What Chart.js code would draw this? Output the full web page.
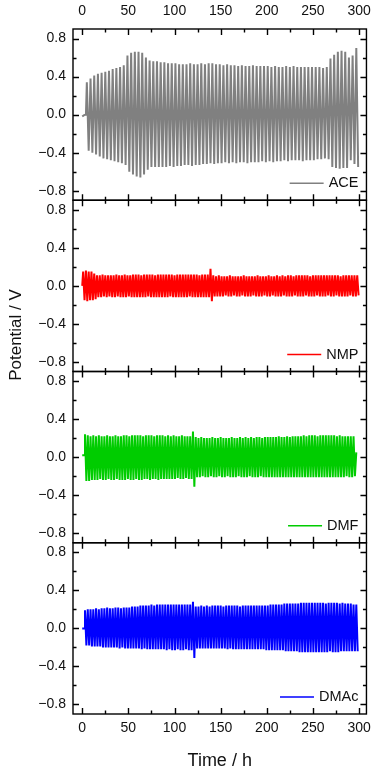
<!DOCTYPE html>
<html>
<head>
<meta charset="utf-8">
<script src="https://cdn.jsdelivr.net/npm/chart.js@4/dist/chart.umd.min.js"></script>
<style>
html,body{margin:0;padding:0;background:#fff;}
#wrap{position:relative;width:380px;height:774px;}
</style>
</head>
<body>
<div id="wrap"><canvas id="c" width="380" height="774"></canvas></div>
<script>
// ---------- data ----------
const xTicks = [0, 50, 100, 150, 200, 250, 300];
const xMinorTicks = [25, 75, 125, 175, 225, 275];
const yTicks = [-0.8, -0.4, 0.0, 0.4, 0.8];
const yMinorTicks = [-0.6, -0.2, 0.2, 0.6];
const seriesNames = ['ACE', 'NMP', 'DMF', 'DMAc'];

// ACE: rest segment then cycles (period 4 h, first peak at 5 h)
const aceRestTime = [0, 2, 4];
const aceRestV = [-0.02, -0.005, 0.0];
const aceStart = 5, acePeriod = 4;
const aceUpper = [0.34,0.38,0.41,0.43,0.44,0.45,0.46,0.48,0.49,0.50,
  0.52,0.62,0.65,0.66,0.66,0.65,0.60,0.57,0.56,0.56,
  0.55,0.55,0.54,0.54,0.54,0.53,0.53,0.53,0.54,0.53,
  0.53,0.54,0.53,0.54,0.54,0.53,0.53,0.52,0.53,0.52,
  0.52,0.51,0.52,0.51,0.51,0.52,0.51,0.51,0.51,0.51,
  0.50,0.51,0.50,0.50,0.51,0.50,0.51,0.50,0.50,0.50,
  0.50,0.50,0.50,0.50,0.49,0.50,0.59,0.63,0.66,0.67,
  0.66,0.60,0.62,0.70];
const aceLower = [-0.38,-0.40,-0.42,-0.44,-0.46,-0.47,-0.48,-0.49,-0.50,-0.51,
  -0.53,-0.60,-0.63,-0.65,-0.66,-0.63,-0.58,-0.55,-0.55,-0.55,
  -0.55,-0.55,-0.54,-0.55,-0.54,-0.54,-0.53,-0.53,-0.54,-0.53,
  -0.53,-0.52,-0.52,-0.51,-0.52,-0.51,-0.51,-0.50,-0.51,-0.50,
  -0.51,-0.50,-0.50,-0.51,-0.50,-0.50,-0.50,-0.49,-0.50,-0.49,
  -0.50,-0.49,-0.49,-0.48,-0.49,-0.48,-0.48,-0.48,-0.49,-0.48,
  -0.48,-0.48,-0.47,-0.47,-0.46,-0.47,-0.55,-0.56,-0.57,-0.56,
  -0.56,-0.48,-0.52,-0.55];

// NMP: cycles (period 3 h, first peak at 1 h)
const nmpRestTime = [0];
const nmpRestV = [0.0];
const nmpStart = 1, nmpPeriod = 3;
const nmpUpper = [0.15,0.16,0.15,0.15,0.13,0.11,0.11,0.12,0.11,0.11,
  0.11,0.11,0.12,0.11,0.11,0.12,0.11,0.11,0.12,0.12,
  0.12,0.11,0.12,0.12,0.12,0.12,0.11,0.12,0.12,0.12,
  0.12,0.12,0.12,0.11,0.12,0.12,0.12,0.12,0.12,0.12,
  0.12,0.12,0.11,0.12,0.12,0.12,0.18,0.11,0.10,0.11,
  0.10,0.10,0.10,0.11,0.10,0.10,0.10,0.10,0.11,0.10,
  0.10,0.10,0.10,0.11,0.10,0.10,0.10,0.11,0.10,0.10,
  0.11,0.10,0.11,0.10,0.11,0.11,0.10,0.11,0.11,0.11,
  0.11,0.11,0.10,0.11,0.11,0.11,0.11,0.11,0.11,0.11,
  0.11,0.11,0.11,0.10,0.11,0.11,0.11,0.11,0.11,0.11];
const nmpLower = [-0.15,-0.16,-0.15,-0.15,-0.14,-0.12,-0.12,-0.11,-0.12,-0.11,
  -0.12,-0.12,-0.11,-0.12,-0.12,-0.12,-0.11,-0.12,-0.12,-0.12,
  -0.12,-0.12,-0.12,-0.11,-0.12,-0.12,-0.12,-0.12,-0.12,-0.12,
  -0.12,-0.11,-0.12,-0.12,-0.12,-0.12,-0.12,-0.12,-0.11,-0.12,
  -0.12,-0.12,-0.12,-0.12,-0.12,-0.12,-0.16,-0.11,-0.11,-0.11,
  -0.11,-0.10,-0.11,-0.11,-0.10,-0.11,-0.11,-0.10,-0.11,-0.11,
  -0.11,-0.10,-0.11,-0.11,-0.11,-0.10,-0.11,-0.11,-0.10,-0.11,
  -0.11,-0.11,-0.10,-0.11,-0.11,-0.11,-0.10,-0.11,-0.11,-0.11,
  -0.10,-0.11,-0.11,-0.11,-0.10,-0.11,-0.11,-0.11,-0.10,-0.11,
  -0.11,-0.10,-0.11,-0.11,-0.11,-0.11,-0.10,-0.11,-0.11,-0.10];

// DMF: rest then cycles (period 3 h, first peak at 3 h)
const dmfRestTime = [0, 2];
const dmfRestV = [0.02, 0.02];
const dmfEndTime = [297];
const dmfEndV = [0.05];
const dmfStart = 3, dmfPeriod = 3;
const dmfUpper = [0.24,0.23,0.22,0.23,0.22,0.23,0.22,0.22,0.23,0.22,
  0.22,0.23,0.22,0.22,0.23,0.23,0.22,0.23,0.23,0.23,
  0.23,0.22,0.23,0.23,0.23,0.22,0.23,0.23,0.23,0.22,
  0.23,0.22,0.23,0.22,0.22,0.23,0.22,0.22,0.22,0.27,
  0.21,0.20,0.21,0.20,0.20,0.20,0.21,0.20,0.20,0.21,
  0.20,0.20,0.20,0.21,0.20,0.20,0.21,0.20,0.21,0.20,
  0.21,0.20,0.21,0.21,0.20,0.21,0.21,0.21,0.21,0.21,
  0.22,0.21,0.21,0.22,0.21,0.22,0.22,0.22,0.22,0.23,
  0.22,0.23,0.23,0.23,0.22,0.23,0.23,0.23,0.23,0.23,
  0.23,0.22,0.23,0.22,0.22,0.22,0.22,0.22];
const dmfLower = [-0.25,-0.25,-0.24,-0.24,-0.24,-0.23,-0.24,-0.24,-0.23,-0.24,
  -0.24,-0.23,-0.24,-0.24,-0.24,-0.23,-0.24,-0.24,-0.23,-0.24,
  -0.24,-0.23,-0.23,-0.24,-0.23,-0.23,-0.24,-0.23,-0.23,-0.23,
  -0.23,-0.23,-0.23,-0.22,-0.23,-0.23,-0.22,-0.23,-0.23,-0.31,
  -0.21,-0.21,-0.20,-0.21,-0.21,-0.20,-0.21,-0.21,-0.20,-0.21,
  -0.21,-0.20,-0.21,-0.21,-0.21,-0.20,-0.21,-0.21,-0.21,-0.20,
  -0.21,-0.21,-0.21,-0.20,-0.21,-0.21,-0.21,-0.21,-0.21,-0.21,
  -0.21,-0.21,-0.21,-0.21,-0.21,-0.21,-0.21,-0.21,-0.21,-0.21,
  -0.21,-0.21,-0.21,-0.21,-0.21,-0.21,-0.21,-0.21,-0.21,-0.21,
  -0.21,-0.21,-0.21,-0.21,-0.20,-0.21,-0.21,-0.20];

// DMAc: rest then cycles (period 3 h, first peak at 3 h)
const dmacRestTime = [0, 2];
const dmacRestV = [0.0, 0.0];
const dmacStart = 3, dmacPeriod = 3;
const dmacUpper = [0.19,0.20,0.20,0.20,0.21,0.20,0.21,0.21,0.22,0.21,
  0.21,0.22,0.22,0.21,0.22,0.22,0.22,0.23,0.23,0.23,
  0.24,0.24,0.24,0.24,0.25,0.24,0.25,0.25,0.25,0.25,
  0.25,0.25,0.25,0.25,0.25,0.25,0.25,0.25,0.25,0.28,
  0.23,0.23,0.24,0.23,0.24,0.23,0.24,0.24,0.24,0.24,
  0.23,0.24,0.24,0.24,0.24,0.24,0.23,0.24,0.24,0.24,
  0.24,0.24,0.24,0.24,0.24,0.24,0.24,0.25,0.25,0.25,
  0.25,0.25,0.26,0.26,0.26,0.26,0.26,0.26,0.27,0.27,
  0.27,0.27,0.27,0.27,0.27,0.27,0.27,0.26,0.27,0.27,
  0.27,0.27,0.26,0.27,0.26,0.26,0.26,0.25,0.25];
const dmacLower = [-0.18,-0.18,-0.19,-0.19,-0.19,-0.19,-0.20,-0.20,-0.20,-0.20,
  -0.20,-0.20,-0.21,-0.20,-0.21,-0.21,-0.21,-0.21,-0.21,-0.21,
  -0.22,-0.21,-0.22,-0.22,-0.22,-0.22,-0.22,-0.22,-0.22,-0.23,
  -0.22,-0.23,-0.23,-0.22,-0.23,-0.23,-0.22,-0.23,-0.23,-0.31,
  -0.21,-0.21,-0.21,-0.21,-0.21,-0.21,-0.21,-0.21,-0.21,-0.21,
  -0.21,-0.22,-0.21,-0.22,-0.22,-0.22,-0.22,-0.22,-0.22,-0.22,
  -0.22,-0.22,-0.22,-0.22,-0.22,-0.23,-0.23,-0.23,-0.23,-0.23,
  -0.23,-0.23,-0.24,-0.24,-0.24,-0.24,-0.24,-0.25,-0.25,-0.25,
  -0.25,-0.25,-0.25,-0.25,-0.25,-0.25,-0.25,-0.25,-0.24,-0.25,
  -0.25,-0.25,-0.24,-0.24,-0.24,-0.24,-0.24,-0.24,-0.24];

// ---------- build point lists from the arrays ----------
function buildSeries(restT, restV, start, period, upper, lower, endT, endV) {
  const pts = [];
  restT.forEach((t, i) => pts.push({x: t, y: restV[i]}));
  for (let k = 0; k < upper.length; k++) {
    pts.push({x: start + k * period, y: upper[k]});
    pts.push({x: start + k * period + period / 2, y: lower[k]});
  }
  if (endT) endT.forEach((t, i) => pts.push({x: t, y: endV[i]}));
  return pts;
}
const aceData = buildSeries(aceRestTime, aceRestV, aceStart, acePeriod, aceUpper, aceLower);
const nmpData = buildSeries(nmpRestTime, nmpRestV, nmpStart, nmpPeriod, nmpUpper, nmpLower);
const dmfData = buildSeries(dmfRestTime, dmfRestV, dmfStart, dmfPeriod, dmfUpper, dmfLower, dmfEndTime, dmfEndV);
const dmacData = buildSeries(dmacRestTime, dmacRestV, dmacStart, dmacPeriod, dmacUpper, dmacLower);

// ---------- styling ----------
const FONT = '"Liberation Sans", Arial, sans-serif';
const colors = ['#808080', '#ff0000', '#00cc00', '#0000ff'];
const lineWidths = [2.0, 2.0, 2.0, 2.0];
const panelIds = ['yACE', 'yNMP', 'yDMF', 'yDMAc'];

function yLabel(v) {
  const r = Math.round(v * 10) / 10;
  if (r === 0) return '0.0';
  return (r < 0 ? '\u2212' : '') + Math.abs(r).toFixed(1);
}

function makeY() {
  return {
    type: 'linear', position: 'left', stack: 'panels', stackWeight: 1,
    min: -0.9, max: 0.9,
    grid: {display: false, drawTicks: false},
    border: {display: false},
    afterBuildTicks: s => { s.ticks = yTicks.map(v => ({value: v})); },
    afterFit: s => { s.width = 73; },
    ticks: {callback: yLabel, padding: 7, color: '#111', font: {family: FONT, size: 14}}
  };
}

const frame = {
  id: 'frame',
  afterDatasetsDraw(chart) {
    const {ctx, chartArea: ca, scales} = chart;
    const x = scales.x;
    ctx.save();
    ctx.strokeStyle = '#000';
    ctx.lineWidth = 1.4;
    panelIds.forEach((id, i) => {
      const s = scales[id];
      const top = s.top, bot = s.bottom;
      ctx.strokeRect(ca.left, top, ca.right - ca.left, bot - top);
      ctx.beginPath();
      xTicks.forEach(v => {
        const px = Math.round(x.getPixelForValue(v)) + 0.5;
        ctx.moveTo(px, top); ctx.lineTo(px, top + 6);
        ctx.moveTo(px, bot); ctx.lineTo(px, bot - 6);
      });
      xMinorTicks.forEach(v => {
        const px = Math.round(x.getPixelForValue(v)) + 0.5;
        ctx.moveTo(px, top); ctx.lineTo(px, top + 3.5);
        ctx.moveTo(px, bot); ctx.lineTo(px, bot - 3.5);
      });
      yTicks.forEach(v => {
        const py = Math.round(s.getPixelForValue(v)) + 0.5;
        ctx.moveTo(ca.left, py); ctx.lineTo(ca.left + 6, py);
        ctx.moveTo(ca.right, py); ctx.lineTo(ca.right - 6, py);
      });
      yMinorTicks.forEach(v => {
        const py = Math.round(s.getPixelForValue(v)) + 0.5;
        ctx.moveTo(ca.left, py); ctx.lineTo(ca.left + 3.5, py);
        ctx.moveTo(ca.right, py); ctx.lineTo(ca.right - 3.5, py);
      });
      ctx.stroke();

      // per-panel legend
      ctx.font = '14.5px ' + FONT;
      ctx.fillStyle = '#111';
      ctx.textBaseline = 'middle';
      ctx.textAlign = 'left';
      const name = seriesNames[i];
      const w = ctx.measureText(name).width;
      const ly = bot - 17;
      const tx = ca.right - 8 - w;
      ctx.fillText(name, tx, ly);
      ctx.beginPath();
      ctx.strokeStyle = colors[i];
      ctx.lineWidth = 1.6;
      ctx.moveTo(tx - 39, ly); ctx.lineTo(tx - 5, ly);
      ctx.stroke();
      ctx.strokeStyle = '#000';
      ctx.lineWidth = 1.4;
    });
    // shared y-axis title
    ctx.translate(16, 335);
    ctx.rotate(-Math.PI / 2);
    ctx.font = '17px ' + FONT;
    ctx.fillStyle = '#111';
    ctx.textAlign = 'center';
    ctx.textBaseline = 'middle';
    ctx.fillText('Potential / V', 0, 0);
    ctx.restore();
  }
};

const ds = (label, data, i) => ({
  label, data, yAxisID: panelIds[i], xAxisID: 'x',
  borderColor: colors[i], borderWidth: lineWidths[i], pointRadius: 0, tension: 0, fill: false
});

new Chart(document.getElementById('c'), {
  type: 'line',
  data: {
    datasets: [
      ds('ACE', aceData, 0),
      ds('NMP', nmpData, 1),
      ds('DMF', dmfData, 2),
      ds('DMAc', dmacData, 3)
    ]
  },
  options: {
    responsive: false,
    animation: false,
    layout: {padding: {left: 0, right: 10, top: 0, bottom: 0}},
    plugins: {legend: {display: false}, tooltip: {enabled: false}},
    scales: {
      x: {
        type: 'linear', position: 'bottom', min: -10, max: 308,
        grid: {display: false, drawTicks: false}, border: {display: false},
        afterBuildTicks: s => { s.ticks = xTicks.map(v => ({value: v})); },
        afterFit: s => { s.height = 60; },
        ticks: {autoSkip: false, maxRotation: 0, padding: 6, color: '#111', font: {family: FONT, size: 14}},
        title: {display: true, text: 'Time / h', color: '#111', font: {family: FONT, size: 18}, padding: {top: 0, bottom: 2}}
      },
      xTop: {
        type: 'linear', position: 'top', min: -10, max: 308,
        grid: {display: false, drawTicks: false}, border: {display: false},
        afterBuildTicks: s => { s.ticks = xTicks.map(v => ({value: v})); },
        afterFit: s => { s.height = 29; },
        ticks: {autoSkip: false, maxRotation: 0, padding: 9, color: '#111', font: {family: FONT, size: 14}}
      },
      // stacked panels: listed bottom-first so ACE ends up on top
      yDMAc: makeY(),
      yDMF: makeY(),
      yNMP: makeY(),
      yACE: makeY()
    }
  },
  plugins: [frame]
});
</script>
</body>
</html>
